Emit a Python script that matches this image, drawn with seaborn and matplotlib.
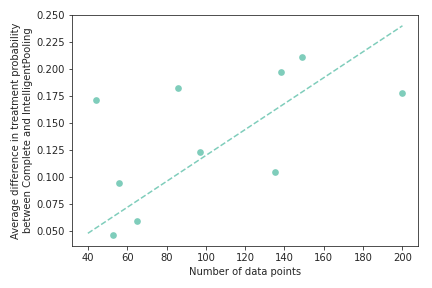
import numpy as np
import pandas as pd
import seaborn as sns
import matplotlib.pyplot as plt

# Data
n_points = [44, 53, 56, 65, 86, 97, 135, 138, 149, 200]
avg_diff = [0.171, 0.046, 0.095, 0.059, 0.182, 0.123, 0.105, 0.197, 0.211, 0.178]

# dashed trend line endpoints
trend_x = [40, 200]
trend_y = [0.048, 0.240]

color = "#7fcdbb"

sns.set_style("ticks")
plt.rcParams["font.family"] = ["DejaVu Sans"]

df = pd.DataFrame({"n": n_points, "diff": avg_diff})

fig, ax = plt.subplots(figsize=(6, 4), dpi=72)
sns.scatterplot(data=df, x="n", y="diff", color=color, s=45, edgecolor=None, linewidth=0, ax=ax)
sns.lineplot(x=trend_x, y=trend_y, color=color, linestyle="--", ax=ax)

ax.set_xlabel("Number of data points")
ax.set_ylabel("Average difference in treatment probability\nbetween Complete and IntelligentPooling")
ax.set_xticks(np.arange(40, 201, 20))
ax.set_yticks(np.arange(0.05, 0.251, 0.025))
ax.set_ylim(0.0363, 0.25)
ax.set_xlim(32, 208)

fig.subplots_adjust(left=0.167, right=0.968, top=0.948, bottom=0.146)
fig.savefig("out.png", dpi=72)
